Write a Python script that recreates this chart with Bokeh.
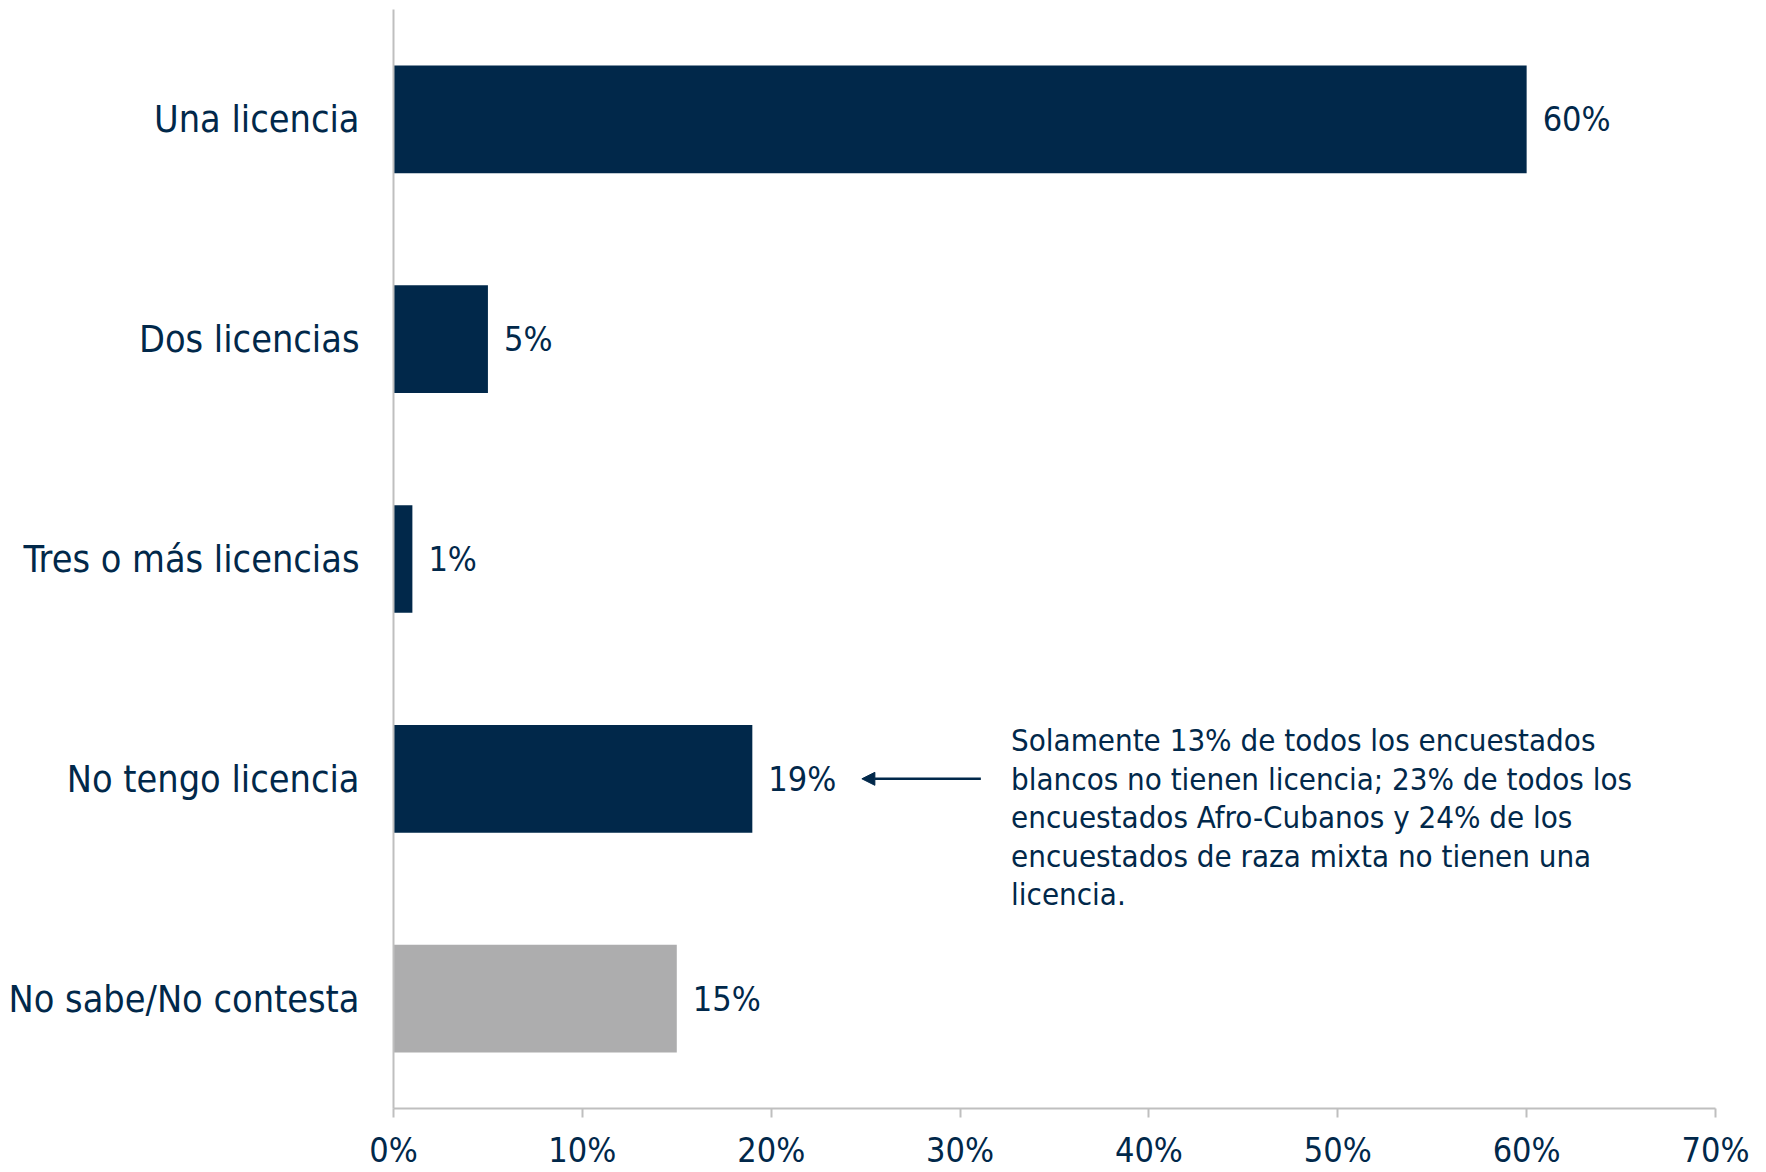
from bokeh.plotting import figure
from bokeh.models import ColumnDataSource, FixedTicker, Arrow, NormalHead, Range1d
from bokeh.embed import file_html
from bokeh.resources import INLINE
from bokeh.core.properties import value

# ---- data ----
categories = ["Una licencia", "Dos licencias", "Tres o más licencias", "No tengo licencia", "No sabe/No contesta"]
percentages = [60, 5, 1, 19, 15]
bar_colors = ["#01284A", "#01284A", "#01284A", "#01284A", "#ADADAE"]
x_ticks = [0, 10, 20, 30, 40, 50, 60, 70]
note_lines = [
    "Solamente 13% de todos los encuestados",
    "blancos no tienen licencia; 23% de todos los",
    "encuestados Afro-Cubanos y 24% de los",
    "encuestados de raza mixta no tienen una",
    "licencia.",
]
note_category = "No tengo licencia"
arrow_from, arrow_to, note_x = 31.1, 24.8, 32.7

FONT = "DejaVu Sans Condensed"
NAVY = "#01284A"
AXIS_GRAY = "#BFBFBF"

n = len(categories)
ypos = [n - 1 - i for i in range(n)]
src = ColumnDataSource(dict(
    y=ypos, v=percentages, color=bar_colors,
    lbl=[f"{v}%" for v in percentages],
))

p = figure(width=1764, height=1172, output_backend="svg", toolbar_location=None,
           x_range=Range1d(0, 70), y_range=Range1d(-0.5, n - 0.5),
           min_border_left=393, min_border_right=49, min_border_top=9, min_border_bottom=63)
p.outline_line_color = None
p.grid.grid_line_color = None
p.background_fill_color = "white"

p.hbar(y="y", right="v", left=0, height=0.49, color="color", line_color=None, source=src)
p.text(x="v", y="y", text="lbl", x_offset=16, source=src, text_align="left", text_baseline="middle",
       text_font=value(FONT), text_font_size="34px", text_color=NAVY)

# annotation
cy = ypos[categories.index(note_category)]
step = 38.6 / 220.0
p.text(x=[note_x] * len(note_lines), y=[cy + (1 - i) * step for i in range(len(note_lines))],
       text=note_lines, text_align="left", text_baseline="middle",
       text_font=value(FONT), text_font_size="31px", text_color=NAVY)
p.add_layout(Arrow(end=NormalHead(size=13, fill_color=NAVY, line_color=NAVY),
                   x_start=arrow_from, y_start=cy, x_end=arrow_to, y_end=cy,
                   line_color=NAVY, line_width=2.5))

# axes
xa = p.xaxis[0]
xa.ticker = FixedTicker(ticks=x_ticks)
xa.major_label_overrides = {t: f"{t}%" for t in x_ticks}
xa.axis_line_color = AXIS_GRAY
xa.axis_line_width = 2
xa.major_tick_line_color = AXIS_GRAY
xa.major_tick_line_width = 2
xa.major_tick_out = 9
xa.major_tick_in = 0
xa.minor_tick_line_color = None
xa.major_label_text_font = FONT
xa.major_label_text_font_size = "34px"
xa.major_label_text_color = NAVY
xa.major_label_standoff = 12

ya = p.yaxis[0]
ya.ticker = FixedTicker(ticks=ypos)
ya.major_label_overrides = {y: c for y, c in zip(ypos, categories)}
ya.axis_line_color = AXIS_GRAY
ya.axis_line_width = 2
ya.major_tick_line_color = None
ya.minor_tick_line_color = None
ya.major_label_text_font = FONT
ya.major_label_text_font_size = "37.5px"
ya.major_label_text_color = NAVY
ya.major_label_standoff = 28

open("out.html", "w").write(file_html(p, INLINE))
